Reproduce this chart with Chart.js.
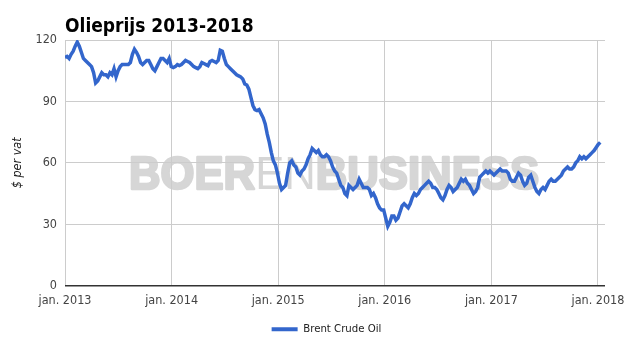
<!DOCTYPE html>
<html>
<head>
<meta charset="utf-8">
<script src="https://cdn.jsdelivr.net/npm/chart.js@4"></script>
<style>
  html, body { margin: 0; padding: 0; background: #fff; }
  #wrap { width: 625px; height: 355px; position: relative; }
</style>
</head>
<body>
<div id="wrap"><canvas id="oilChart" width="625" height="355"></canvas></div>
<script>
// Brent prijs, weekwaarden ($ per vat)
const brent2013 = [111.5, 112, 111, 113, 114.5, 117, 119, 117, 114, 111, 110, 109, 108,
  107, 104, 99, 100, 102, 104, 103, 103, 102, 104, 103, 106, 102, 105, 107, 108, 108,
  108, 108, 109, 113, 115.5, 114, 112, 109, 108, 109, 110, 110, 108, 106, 105, 107,
  109, 111, 111, 110, 109, 111];
const brent2014 = [107, 106.5, 107, 108, 107.5, 108, 109, 110, 109.5, 109, 108, 107, 106.5,
  106, 107, 109, 108.5, 108, 107.5, 109.5, 110, 109.5, 109, 110, 115, 114.5, 111, 108,
  107, 106, 105, 104, 103, 102.5, 102, 101, 98.5, 98, 96, 92, 88, 86, 85.5, 86, 84, 82,
  79, 74, 70, 65, 61, 59];
const brent2015 = [55, 50, 47, 48, 49, 55, 60, 61, 59, 58, 55, 54, 56, 57, 59, 62, 64, 67,
  66, 65, 66, 64, 63, 63, 64, 63, 61, 58, 56, 55, 52, 49, 48, 45, 44, 49, 48, 47, 48, 49,
  52, 50, 48, 48, 48, 47, 44, 45, 43, 40, 38, 37];
const brent2016 = [37, 33, 29, 31, 34, 34, 32, 33, 36, 39, 40, 39, 38, 40, 43, 45, 44, 45,
  47, 48, 49, 50, 51, 50, 48, 48, 47, 45, 43, 42, 44, 47, 49, 48, 46, 47, 48, 50, 52, 51,
  52, 50, 49, 47, 45, 46, 48, 53, 54, 55, 56, 55];
const brent2017 = [56, 55, 54, 55, 56, 57, 56, 56, 56, 55, 52, 51, 51, 53, 55, 54, 51, 49,
  50, 53, 54, 51, 48, 46, 45, 47, 48, 47, 49, 51, 52, 51, 51, 52, 53, 54, 56, 57, 58, 57,
  57, 58, 60, 61, 63, 62, 63, 62, 63, 64, 65, 66];
const brent2018 = [67.5, 69, 70];

const startYear = 2013;
const xMax = 2018.066;
const tickYears = [2013, 2014, 2015, 2016, 2017, 2018];
const tickLabels = ['jan. 2013', 'jan. 2014', 'jan. 2015', 'jan. 2016', 'jan. 2017', 'jan. 2018'];
const yTicks = [0, 30, 60, 90, 120];

const prices = [].concat(brent2013, brent2014, brent2015, brent2016, brent2017, brent2018);
const points = prices.map((v, i) => ({ x: startYear + i * 7 / 365.25, y: v }));

const FONT = "'DejaVu Sans Condensed', 'DejaVu Sans', sans-serif";
const BLUE = '#3366cc';

// watermerk achter de grid
const watermark = {
  id: 'watermark',
  beforeDraw(chart) {
    const ctx = chart.ctx;
    const parts = [['BOER', 'bold', 2.6], ['EN', 'normal', 0], ['BUSINESS', 'bold', 2.6]];
    const size = 47;
    const fam = "px 'Liberation Sans', Arial, sans-serif";
    ctx.save();
    let total = 0;
    parts.forEach(p => {
      ctx.font = p[1] + ' ' + size + fam;
      total += ctx.measureText(p[0]).width;
    });
    ctx.translate(129, 176);
    ctx.scale(410 / total, 1);
    ctx.fillStyle = '#d6d6d6';
    ctx.strokeStyle = '#d6d6d6';
    ctx.lineJoin = 'round';
    let x = 0;
    parts.forEach(p => {
      ctx.font = p[1] + ' ' + size + fam;
      if (p[2]) { ctx.lineWidth = p[2]; ctx.strokeText(p[0], x, 0); }
      ctx.fillText(p[0], x, 0);
      x += ctx.measureText(p[0]).width;
    });
    ctx.restore();
  }
};

// titel linksboven
const titlePlugin = {
  id: 'leftTitle',
  afterDraw(chart) {
    const ctx = chart.ctx;
    ctx.save();
    ctx.font = 'bold 19px ' + FONT;
    ctx.fillStyle = '#000';
    ctx.fillText('Olieprijs 2013-2018', 65, 27);
    ctx.restore();
  }
};

// legenda iets naar rechts, zoals in het origineel
const legendShift = {
  id: 'legendShift',
  afterLayout(chart) {
    chart.legend.left += 24;
    chart.legend.right += 24;
  }
};

const ctx = document.getElementById('oilChart').getContext('2d');
const oilChart = new Chart(ctx, {
  type: 'line',
  data: {
    datasets: [{
      label: 'Brent Crude Oil',
      data: points,
      borderColor: BLUE,
      backgroundColor: BLUE,
      borderWidth: 3.5,
      pointRadius: 0,
      tension: 0,
      fill: false
    }]
  },
  options: {
    responsive: false,
    animation: false,
    layout: { padding: { top: 40, right: 20, left: 0, bottom: 10 } },
    plugins: {
      title: { display: false },
      tooltip: { enabled: false },
      legend: {
        position: 'bottom',
        labels: {
          boxWidth: 26,
          boxHeight: 4,
          padding: 10,
          color: '#222',
          font: { family: FONT, size: 11.3 },
          generateLabels: chart => Chart.defaults.plugins.legend.labels.generateLabels(chart)
            .map(l => Object.assign(l, { lineWidth: 0, fillStyle: BLUE }))
        }
      }
    },
    scales: {
      x: {
        type: 'linear',
        min: startYear,
        max: xMax,
        afterFit: s => { s.height = 28; s.paddingLeft = 0; s.paddingRight = 0; },
        afterBuildTicks: s => { s.ticks = tickYears.map(v => ({ value: v })); },
        ticks: {
          padding: 8,
          color: '#444',
          font: { family: FONT, size: 12.5 },
          maxRotation: 0,
          autoSkip: false,
          callback: v => tickLabels[tickYears.indexOf(v)]
        },
        grid: { color: '#cccccc', drawTicks: false },
        border: { display: false }
      },
      y: {
        min: 0,
        max: 120,
        afterFit: s => { s.width = 65; },
        afterBuildTicks: s => { s.ticks = yTicks.map(v => ({ value: v })); },
        title: {
          display: true,
          text: '$ per vat',
          color: '#222',
          font: { family: FONT, size: 12.5, style: 'italic' },
          padding: { top: 10, bottom: 0 }
        },
        ticks: {
          padding: 8,
          color: '#444',
          font: { family: FONT, size: 12.5 }
        },
        grid: {
          color: ctx => ctx.tick && ctx.tick.value === 0 ? '#333333' : '#cccccc',
          lineWidth: ctx => ctx.tick && ctx.tick.value === 0 ? 1.5 : 1,
          drawTicks: false
        },
        border: { display: false }
      }
    }
  },
  plugins: [watermark, titlePlugin, legendShift]
});
</script>
</body>
</html>
